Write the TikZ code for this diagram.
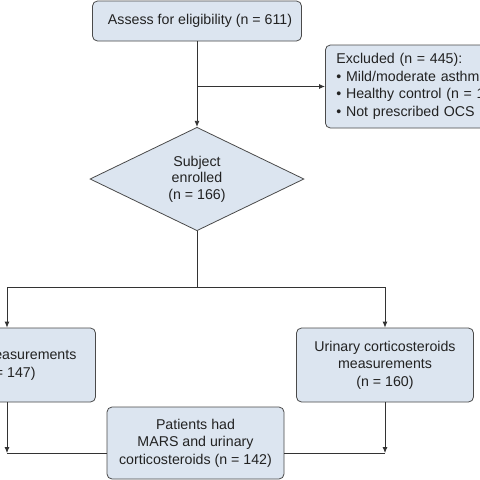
\documentclass[tikz,border=0pt]{standalone}
\usepackage{fontspec}
\setmainfont{Liberation Sans}
\usetikzlibrary{shapes.geometric,arrows.meta}
\definecolor{boxfill}{HTML}{DCE5F0}
\definecolor{boxline}{HTML}{4A4A4A}
\definecolor{conn}{HTML}{333333}
\definecolor{txt}{HTML}{222222}
\begin{document}
\begin{tikzpicture}[x=1pt,y=-1pt,
  box/.style={draw=boxline, fill=boxfill, rounded corners=5pt, line width=0.8pt,
    align=center, inner sep=0pt, text=txt, font=\fontsize{14.2}{17.5}\selectfont},
  arr/.style={draw=conn, line width=0.8pt, -{Latex[length=6pt,width=5pt]}},
  ln/.style={draw=conn, line width=0.8pt}]
\useasboundingbox (0,0) rectangle (480,480);
\clip (0,0) rectangle (480,480);
\fill[white] (0,0) rectangle (480,480);

\node[box, minimum width=209pt, minimum height=40pt] (top) at (197,21)
  {\hspace*{6pt}Assess for eligibility (n = 611)};
\node[box, anchor=west, align=left, text width=188pt, inner xsep=11pt,
  minimum height=83pt] (excl) at (325,86.5)
  {Excluded (n = 445):\\
   • Mild/moderate asthm\\
   • Healthy control (n = 1\\
   • Not prescribed OCS};
\node[diamond, draw=boxline, fill=boxfill, line width=0.8pt, inner sep=0pt,
  minimum width=214pt, minimum height=92pt, align=center, text=txt,
  font=\fontsize{14.2}{16.5}\selectfont] (enr) at (197,179)
  {Subject\\enrolled\\(n = 166)};
\node[box, minimum width=177pt, minimum height=74pt] (mars) at (7,365)
  {MARS measurements\\(n = 147)};
\node[box, minimum width=177pt, minimum height=74pt] (uri) at (385,365)
  {Urinary corticosteroids\\measurements\\(n = 160)};
\node[box, minimum width=177pt, minimum height=72pt] (both) at (195.5,443)
  {Patients had\\MARS and urinary\\corticosteroids (n = 142)};

\draw[arr] (top.south) -- (top.south |- enr.north);
\draw[arr] (top.south |- excl.west) -- (excl.west);
\coordinate (split) at (197,287);
\draw[ln] (enr.south) -- (split);
\draw[arr] (split) -| (mars.north);
\draw[arr] (split) -| (uri.north);
\coordinate (cl) at (7,453);
\coordinate (cr) at (385,453);
\draw[arr] (mars.south) -- (cl);
\draw[ln] (cl) -- (cl -| both.west);
\draw[arr] (uri.south) -- (cr);
\draw[ln] (cr) -- (cr -| both.east);
\end{tikzpicture}
\end{document}
